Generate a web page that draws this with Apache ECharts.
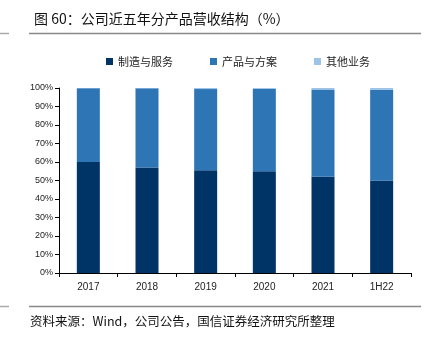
<!DOCTYPE html>
<html><head><meta charset="utf-8">
<script src="https://cdn.jsdelivr.net/npm/echarts@6/dist/echarts.min.js"></script>
<style>html,body{margin:0;padding:0;background:#fff}#c{width:426px;height:341px}</style>
</head><body><div id="c"></div>
<script>
const categories = ['2017','2018','2019','2020','2021','1H22'];
const manufacturing = [60.0, 57.0, 55.5, 55.0, 52.0, 50.0];
const others = [0.1, 0.2, 0.6, 0.5, 0.8, 1.0];
const products = manufacturing.map((m,i)=> +(100 - m - others[i]).toFixed(1));
const yTicks = [0,10,20,30,40,50,60,70,80,90,100];
const seriesNames = ['制造与服务','产品与方案','其他业务'];
const colors = ['#003366','#2E75B6','#9DC3E6'];

const chart = echarts.init(document.getElementById('c'), null, {renderer:'canvas'});
chart.setOption({
  animation:false,
  color: colors,
  title:{text:'图 60：公司近五年分产品营收结构（%）', left:29, top:7,
    textStyle:{fontSize:14, fontWeight:'normal', color:'#111', fontFamily:'Noto Sans CJK SC'}},
  legend:{top:51, left:101, itemWidth:7, itemHeight:7, itemGap:37, icon:'rect',
    textStyle:{fontSize:11, color:'#222', fontFamily:'Noto Sans CJK SC'},
    data: seriesNames},
  grid:{left:59, right:15, top:88, bottom:68},
  xAxis:{type:'category', data:categories,
    axisLine:{lineStyle:{color:'#000', width:1}},
    axisTick:{show:true, length:4, lineStyle:{color:'#000'}},
    axisLabel:{fontSize:10, color:'#222', margin:9, fontFamily:'Liberation Sans'}},
  yAxis:{type:'value', min:0, max:100, interval:10,
    axisLine:{show:true, lineStyle:{color:'#000'}},
    axisTick:{show:true, length:4, inside:false, lineStyle:{color:'#000'}},
    splitLine:{show:false},
    axisLabel:{fontSize:9, color:'#222', margin:6, fontFamily:'Liberation Sans',
      formatter: v => yTicks.includes(v) ? v + '%' : ''}},
  series:[
    {name:seriesNames[0], type:'bar', stack:'a', data:manufacturing, barWidth:23},
    {name:seriesNames[1], type:'bar', stack:'a', data:products, barWidth:23},
    {name:seriesNames[2], type:'bar', stack:'a', data:others, barWidth:23}
  ],
  graphic:[
    {type:'line', shape:{x1:29,y1:33.5,x2:421,y2:33.5}, style:{stroke:'#888', lineWidth:1.5}},
    {type:'line', shape:{x1:0,y1:33.5,x2:9,y2:33.5}, style:{stroke:'#aaa', lineWidth:1.5}},
    {type:'line', shape:{x1:29,y1:306.5,x2:421,y2:306.5}, style:{stroke:'#888', lineWidth:1.5}},
    {type:'line', shape:{x1:0,y1:306.5,x2:9,y2:306.5}, style:{stroke:'#aaa', lineWidth:1.5}},
    {type:'text', left:30, top:315, style:{text:'资料来源：Wind，公司公告，国信证券经济研究所整理',
      fontSize:12.5, fill:'#111', fontFamily:'Noto Sans CJK SC'}}
  ]
});
</script></body></html>
